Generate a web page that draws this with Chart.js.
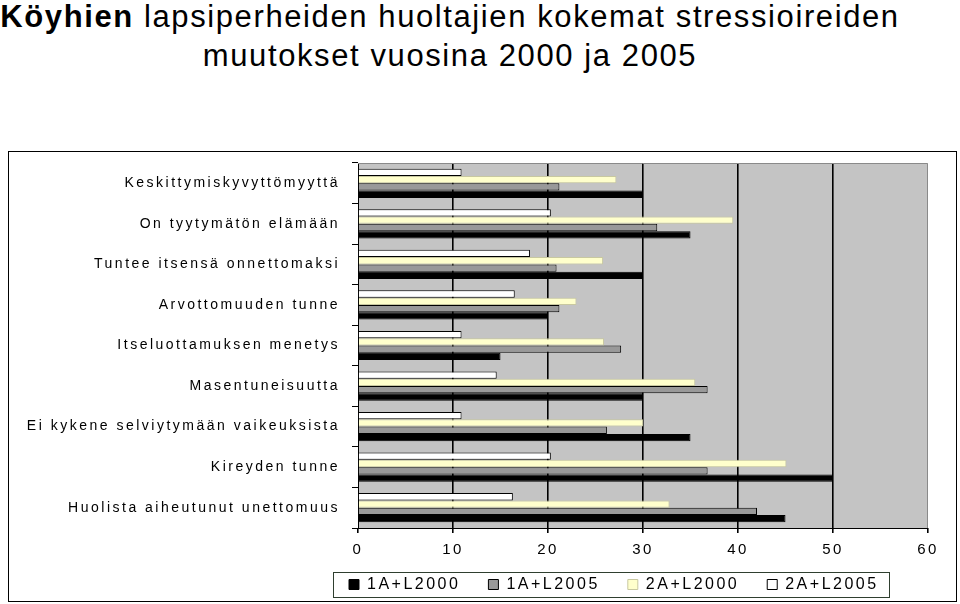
<!DOCTYPE html>
<html>
<head>
<meta charset="utf-8">
<script src="https://cdn.jsdelivr.net/npm/chart.js@4"></script>
<style>
body { margin: 0; width: 960px; height: 604px; background: #fff; position: relative; overflow: hidden; font-family: 'Liberation Sans', Arial, sans-serif; }
#title { position: absolute; left: 0; top: -3px; width: 900px; text-align: center; font-size: 31px; line-height: 39.4px; letter-spacing: 1.6px; color: #000; white-space: nowrap; }
#box { position: absolute; left: 8px; top: 151px; width: 947px; height: 449px; border: 1px solid #000; }
canvas { display: block; }
</style>
</head>
<body>
<div id="title"><b>Köyhien</b> lapsiperheiden huoltajien kokemat stressioireiden<br>muutokset vuosina 2000 ja 2005</div>
<div id="box"><canvas id="chart" width="947" height="449"></canvas></div>
<script>
const categories = [
    'Keskittymiskyvyttömyyttä',
    'On tyytymätön elämään',
    'Tuntee itsensä onnettomaksi',
    'Arvottomuuden tunne',
    'Itseluottamuksen menetys',
    'Masentuneisuutta',
    'Ei kykene selviytymään vaikeuksista',
    'Kireyden tunne',
    'Huolista aiheutunut unettomuus'
];
const seriesNames = ['1A+L2000', '1A+L2005', '2A+L2000', '2A+L2005'];
const a1L2000 = [30, 35, 30, 20, 15, 30, 35, 50, 45];
const a1L2005 = [21.2, 31.5, 20.9, 21.2, 27.7, 36.8, 26.2, 36.8, 42];
const a2L2000 = [27.2, 39.5, 25.8, 23, 25.9, 35.5, 30, 45.1, 32.8];
const a2L2005 = [10.9, 20.3, 18.1, 16.5, 10.9, 14.6, 10.9, 20.3, 16.3];
const xMin = 0, xMax = 60, xStep = 10;

const spacing = '2.5px';
const font = "'Liberation Sans', Arial, sans-serif";
Chart.defaults.font.family = font;
Chart.defaults.color = '#000';

// plot background, plot border, legend frame and the odd excel letter spacing
const plotStyle = {
    id: 'plotStyle',
    beforeLayout(chart) { chart.ctx.letterSpacing = spacing; },
    beforeDraw(chart) {
        const ctx = chart.ctx;
        ctx.letterSpacing = spacing;
        const a = chart.chartArea;
        ctx.save();
        ctx.fillStyle = '#c4c4c4';
        ctx.fillRect(a.left, a.top, a.right - a.left, a.bottom - a.top);
        ctx.restore();
        const lg = chart.legend;
        lg.left = 340 - 28;
        lg.right = 947;
        lg.top = 432.5 - 28 - 8;
    },
    afterDraw(chart) {
        const ctx = chart.ctx, a = chart.chartArea;
        ctx.save();
        ctx.strokeStyle = '#8a8a8a';
        ctx.lineWidth = 1;
        ctx.beginPath();
        ctx.moveTo(a.left, a.top + 0.5);
        ctx.lineTo(a.right - 0.5, a.top + 0.5);
        ctx.lineTo(a.right - 0.5, a.bottom);
        ctx.stroke();
        ctx.strokeStyle = '#2f3f2f';
        ctx.strokeRect(324.5, 420.5, 556, 25);
        ctx.restore();
    }
};

const chart = new Chart(document.getElementById('chart'), {
    type: 'bar',
    data: {
        labels: categories,
        datasets: [
            { label: seriesNames[3], data: a2L2005, backgroundColor: '#ffffff', borderColor: '#000', borderWidth: 1 },
            { label: seriesNames[2], data: a2L2000, backgroundColor: '#ffffcc', borderColor: '#c8c8a0', borderWidth: 1 },
            { label: seriesNames[1], data: a1L2005, backgroundColor: '#999999', borderColor: '#000', borderWidth: 1 },
            { label: seriesNames[0], data: a1L2000, backgroundColor: '#000000', borderColor: '#000', borderWidth: 1 }
        ]
    },
    options: {
        indexAxis: 'y',
        responsive: false,
        animation: false,
        devicePixelRatio: 1,
        categoryPercentage: 0.72,
        barPercentage: 1,
        layout: { padding: { left: 0, right: 28, top: 11, bottom: 11 } },
        plugins: {
            legend: {
                position: 'bottom',
                align: 'start',
                reverse: true,
                maxHeight: 30,
                labels: { boxWidth: 10, boxHeight: 10, padding: 28, color: '#000', font: { size: 16 } }
            },
            tooltip: { enabled: false }
        },
        scales: {
            x: {
                min: xMin,
                max: xMax,
                ticks: { stepSize: xStep, color: '#000', font: { size: 15 }, padding: 8 },
                grid: {
                    color: c => (c.tick && (c.tick.value === xMin || c.tick.value === xMax)) ? 'rgba(0,0,0,0)' : '#000',
                    tickColor: '#000',
                    tickLength: 5,
                    lineWidth: 1.6
                },
                border: { color: '#000', width: 1 },
                afterFit(s) { s.height = 34; }
            },
            y: {
                ticks: { color: '#000', font: { size: 14 }, padding: 12 },
                grid: { drawOnChartArea: false, color: '#000', tickLength: 6 },
                border: { color: '#000' },
                afterFit(s) { s.width = 349; s.paddingTop = 0; s.paddingBottom = 0; }
            }
        }
    },
    plugins: [plotStyle]
});

// line the plot up with the picture
const area = chart.chartArea;
chart.config.options.layout.padding.top += 11 - area.top;
chart.config.options.layout.padding.bottom += area.bottom - 376;
chart.update();
</script>
</body>
</html>
